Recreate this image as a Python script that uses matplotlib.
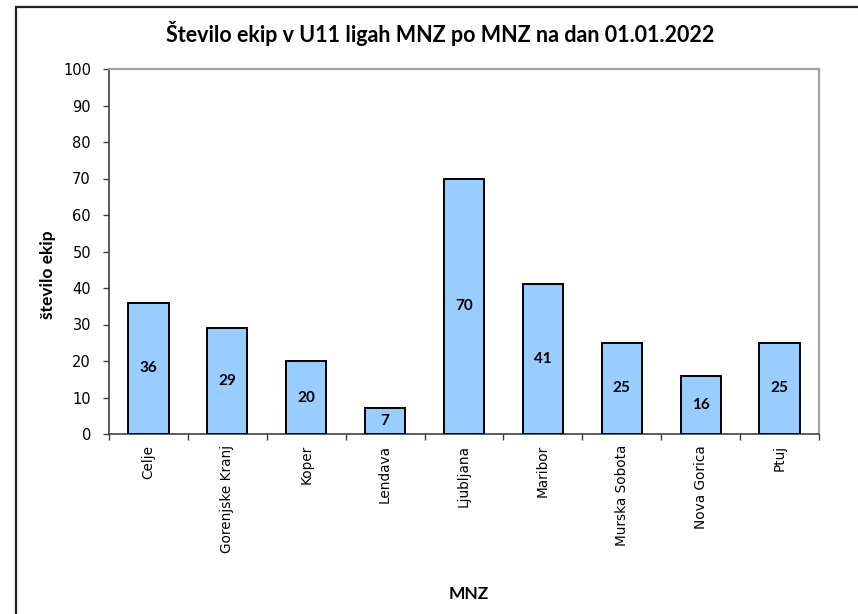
import numpy as np
import matplotlib
matplotlib.use("Agg")
import matplotlib.pyplot as plt
from matplotlib.patches import Rectangle

categories = ["Celje", "Gorenjske Kranj", "Koper", "Lendava", "Ljubljana",
              "Maribor", "Murska Sobota", "Nova Gorica", "Ptuj"]
values = [36, 29, 20, 7, 70, 41, 25, 16, 25]
y_ticks = list(range(0, 101, 10))

title = "Število ekip v U11 ligah MNZ po MNZ na dan 01.01.2022"

fig = plt.figure(figsize=(8.58, 6.14), dpi=100)
ax = fig.add_axes([109 / 858, 1 - 434 / 614, 710 / 858, 365 / 614])

x = np.arange(len(categories))
bars = ax.bar(x, values, width=0.51, color="#99CCFF", edgecolor="black",
              linewidth=1.4, zorder=3)
for b, v in zip(bars, values):
    ax.text(b.get_x() + b.get_width() / 2, v / 2, str(v), ha="center",
            va="center", fontsize=11, fontweight="bold", family="Lato",
            zorder=4)

ax.set_xlim(-0.5, len(categories) - 0.5)
ax.set_ylim(0, 100)
ax.set_yticks(y_ticks)
ax.set_yticklabels([str(t) for t in y_ticks], family="DejaVu Sans",
                   fontsize=10.5)
ax.set_xticks(x)
ax.set_xticklabels(categories, rotation=90, family="DejaVu Sans",
                   fontsize=9.8)
ax.set_xticks(np.arange(-0.5, len(categories)), minor=True)
ax.tick_params(axis="x", which="major", length=0, pad=8)
ax.tick_params(axis="x", which="minor", length=4, width=1, color="#404040",
               direction="out")
ax.tick_params(axis="y", length=4.5, width=1, color="#404040", pad=8.5)

for s in ["left", "bottom"]:
    ax.spines[s].set_color("#404040")
    ax.spines[s].set_linewidth(1.2)
for s in ["top", "right"]:
    ax.spines[s].set_color("#a0a0a0")
    ax.spines[s].set_linewidth(1.6)

fig.text(440 / 858, 1 - 34 / 614, title, ha="center", va="center",
         fontsize=15.5, fontweight="bold", family="Lato")
fig.text(48 / 858, 1 - 275 / 614, "število ekip", rotation=90, ha="center",
         va="center", fontsize=12.5, fontweight="bold", family="Lato")
fig.text(469 / 858, 1 - 594 / 614, "MNZ", ha="center", va="center",
         fontsize=12.5, fontweight="bold", family="Lato")

# outer chart frame, cut off at right and bottom
fig.patches.append(Rectangle((16 / 858, -0.05), 1.0, 1.05 - 7 / 614,
                             transform=fig.transFigure, fill=False,
                             edgecolor="#202020", linewidth=1.6))

fig.savefig("out.png", dpi=100)
